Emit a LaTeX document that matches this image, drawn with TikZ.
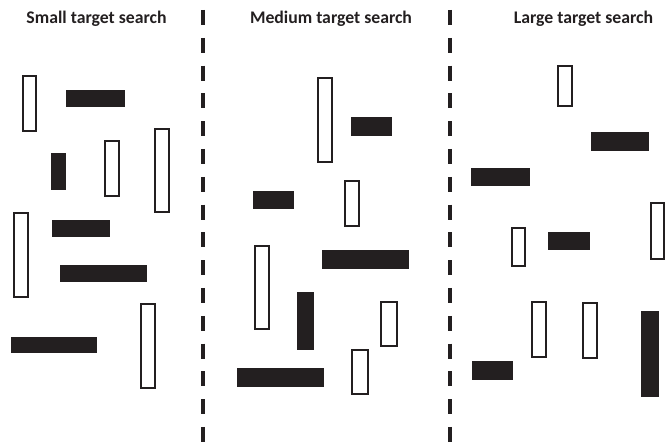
\documentclass[tikz,border=0pt]{standalone}
\usepackage{fontspec}
\setmainfont{Carlito}
\usepackage{tikz}

\definecolor{barcol}{RGB}{35,31,32}
\tikzset{
  outlinebar/.style={draw=barcol, line width=1.5pt},
  solidbar/.style={fill=barcol, draw=none},
  divider/.style={draw=barcol, line width=3pt, dash pattern=on 11.25pt off 9.6pt},
  paneltitle/.style={anchor=base, inner sep=0.75pt, font=\fontsize{13.3}{15}\selectfont\bfseries, text=barcol}
}

\begin{document}
\begin{tikzpicture}[x=0.75pt,y=0.75pt,yscale=-1,xscale=1]
    \useasboundingbox (0,0) rectangle (665,442);

    % Titles
    \node [paneltitle] (smalltitle) at (96.5,24) {Small target search};
    \node [paneltitle] (mediumtitle) at (331,24) {Medium target search};
    \node [paneltitle] (largetitle) at (583.5,24) {Large target search};

    % Dividers
    \draw [divider] (202.5,10) -- (202.5,442);
    \draw [divider] (450,10) -- (450,442);

    %Panel: small target search
    \draw [outlinebar] (23,76) rectangle (36,131);
    \fill [solidbar] (66,90) rectangle (125,107);
    \fill [solidbar] (51,153) rectangle (66,190);
    \draw [outlinebar] (105,141) rectangle (119,196);
    \draw [outlinebar] (155,129) rectangle (169,212);
    \draw [outlinebar] (14,213) rectangle (28,297);
    \fill [solidbar] (52,220) rectangle (110,237);
    \fill [solidbar] (60,265) rectangle (147,282);
    \draw [outlinebar] (141,304) rectangle (155,388);
    \fill [solidbar] (11,337) rectangle (97,353);

    %Panel: medium target search
    \draw [outlinebar] (318,78) rectangle (332,162);
    \fill [solidbar] (351,117) rectangle (392,136);
    \fill [solidbar] (253,191) rectangle (294,209);
    \draw [outlinebar] (345,181) rectangle (359,226);
    \draw [outlinebar] (255,246) rectangle (269,329);
    \fill [solidbar] (322,250) rectangle (409,269);
    \fill [solidbar] (297,292) rectangle (314,350);
    \draw [outlinebar] (381,302) rectangle (397,346);
    \draw [outlinebar] (352,350) rectangle (368,394);
    \fill [solidbar] (237,368) rectangle (324,387);

    %Panel: large target search
    \draw [outlinebar] (558,66) rectangle (572,106);
    \fill [solidbar] (591,132) rectangle (649,151);
    \fill [solidbar] (471,168) rectangle (530,186);
    \draw [outlinebar] (651,203) rectangle (664,259);
    \draw [outlinebar] (512,228) rectangle (525,266);
    \fill [solidbar] (548,232) rectangle (590,250);
    \draw [outlinebar] (532,302) rectangle (546,357);
    \draw [outlinebar] (583,303) rectangle (597,358);
    \fill [solidbar] (641,311) rectangle (659,397);
    \fill [solidbar] (472,361) rectangle (513,380);

\end{tikzpicture}
\end{document}
